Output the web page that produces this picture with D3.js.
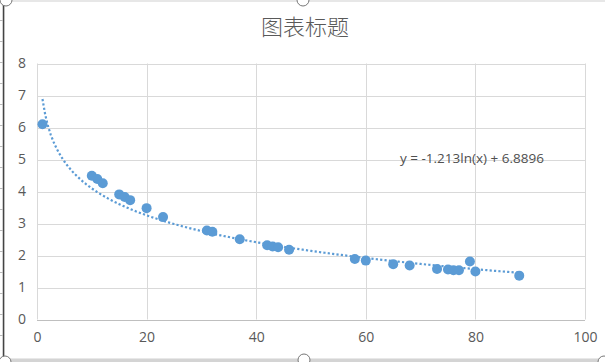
<!DOCTYPE html>
<html>
<head>
<meta charset="utf-8">
<script src="https://cdn.jsdelivr.net/npm/d3@7"></script>
<style>
  body { margin: 0; background: #fff; }
  svg { display: block; font-family: "Open Sans", "Noto Sans", sans-serif; }
</style>
</head>
<body>
<svg id="chart" width="605" height="362"></svg>
<script>
// data
var x_values = [1, 10, 11, 12, 15, 16, 17, 20, 23, 31, 32, 37, 42, 43, 44, 46, 58, 60, 65, 68, 73, 75, 76, 77, 79, 80, 88];
var y_values = [6.1, 4.49, 4.39, 4.26, 3.91, 3.83, 3.73, 3.48, 3.2, 2.78, 2.74, 2.51, 2.32, 2.28, 2.26, 2.18, 1.89, 1.84, 1.73, 1.69, 1.58, 1.56, 1.54, 1.54, 1.81, 1.5, 1.37];
var x_ticks = [0, 20, 40, 60, 80, 100];
var y_ticks = [0, 1, 2, 3, 4, 5, 6, 7, 8];
var trend_coef = {a: -1.213, b: 6.8896};
var title_text = '图表标题';
var trend_label = 'y = -1.213ln(x) + 6.8896';

var svg = d3.select('#chart');
var padding = {top: 63.5, left: 37, right: 20, bottom: 42.5};
var width = 605, height = 362;

var x_scale = d3.scaleLinear().domain([0, 100]).range([padding.left, width - padding.right]);
var y_scale = d3.scaleLinear().domain([0, 8]).range([height - padding.bottom, padding.top]);

// worksheet frame bits around the chart
var frame = svg.append('g');
frame.append('rect').attr('x', 4).attr('y', 1).attr('width', 640).attr('height', 358)
    .attr('fill', 'none').attr('stroke', '#d0d0d0');
frame.append('line').attr('x1', 3.5).attr('x2', 3.5).attr('y1', 0).attr('y2', 362)
    .attr('stroke', '#444').attr('stroke-width', 1.5);
[20, 41, 62, 83, 104, 125, 146, 167, 188, 209, 230, 251, 272, 293, 314, 335].forEach(function(y){
    frame.append('line').attr('x1', 0).attr('x2', 3).attr('y1', y + 0.5).attr('y2', y + 0.5).attr('stroke', '#bbb');
});
frame.append('rect').attr('x', 4).attr('y', 359).attr('width', 601).attr('height', 3).attr('fill', '#d4d4d4');
[[6, 0], [303, 0], [5, 362], [304, 360], [604, 362]].forEach(function(p){
    frame.append('circle').attr('cx', p[0]).attr('cy', p[1]).attr('r', 6)
        .attr('fill', '#fff').attr('stroke', '#777').attr('stroke-width', 1);
});

// gridlines
var grid = svg.append('g');
grid.selectAll('.hgrid').data(y_ticks).enter().append('line')
    .attr('x1', x_scale(0)).attr('x2', x_scale(100))
    .attr('y1', function(d){ return Math.round(y_scale(d)) + 0.5; })
    .attr('y2', function(d){ return Math.round(y_scale(d)) + 0.5; })
    .attr('stroke', function(d){ return d === 0 ? '#bfbfbf' : '#d9d9d9'; });
grid.selectAll('.vgrid').data(x_ticks).enter().append('line')
    .attr('x1', function(d){ return Math.round(x_scale(d)) + 0.5; })
    .attr('x2', function(d){ return Math.round(x_scale(d)) + 0.5; })
    .attr('y1', y_scale(0)).attr('y2', y_scale(8))
    .attr('stroke', '#d9d9d9');

// axes labels via d3 axes, lines hidden
var x_axis = svg.append('g').attr('transform', 'translate(0,' + y_scale(0) + ')')
    .call(d3.axisBottom(x_scale).tickValues(x_ticks).tickSize(0).tickPadding(13));
var y_axis = svg.append('g').attr('transform', 'translate(' + x_scale(0) + ',0)')
    .call(d3.axisLeft(y_scale).tickValues(y_ticks).tickSize(0).tickPadding(11));
[x_axis, y_axis].forEach(function(ax){
    ax.select('.domain').remove();
    ax.selectAll('text').attr('fill', '#595959').style('font-size', '14px')
        .style('font-family', '"Open Sans", "Noto Sans", sans-serif');
});

// trendline
var trend_pts = d3.range(1, 88.01, 0.5).map(function(x){
    return [x, trend_coef.a * Math.log(x) + trend_coef.b];
});
svg.append('path')
    .datum(trend_pts)
    .attr('d', d3.line().x(function(d){ return x_scale(d[0]); }).y(function(d){ return y_scale(d[1]); }))
    .attr('fill', 'none')
    .attr('stroke', '#5b9bd5')
    .attr('stroke-width', 2.2)
    .attr('stroke-dasharray', '2.2,2.2');

// points
svg.append('g').selectAll('circle')
    .data(x_values)
    .enter()
    .append('circle')
    .attr('cx', function(d){ return x_scale(d); })
    .attr('cy', function(d, i){ return y_scale(y_values[i]); })
    .attr('r', 5)
    .attr('fill', '#5b9bd5');

// title and equation
svg.append('text').attr('x', 305).attr('y', 35).attr('text-anchor', 'middle')
    .attr('fill', '#595959').style('font-size', '22px').style('font-weight', 300)
    .style('font-family', '"Noto Sans CJK SC", sans-serif')
    .text(title_text);
svg.append('text').attr('x', 400).attr('y', 163)
    .attr('fill', '#505050').style('font-size', '13.5px')
    .text(trend_label);
</script>
</body>
</html>
